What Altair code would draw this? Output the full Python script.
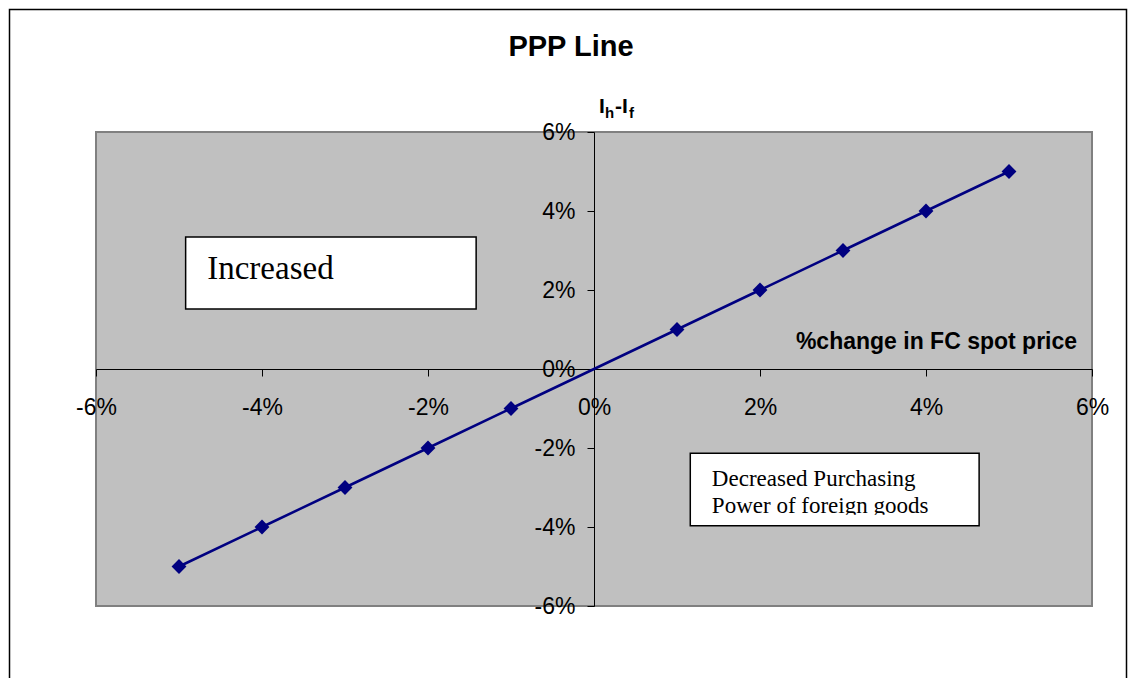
import altair as alt
import pandas as pd

# ---- data ----
x_change = [-0.05, -0.04, -0.03, -0.02, -0.01, 0.01, 0.02, 0.03, 0.04, 0.05]
ih_minus_if = [-0.05, -0.04, -0.03, -0.02, -0.01, 0.01, 0.02, 0.03, 0.04, 0.05]
tick_values = [-0.06, -0.04, -0.02, 0.0, 0.02, 0.04, 0.06]

title_text = "PPP Line"
x_title_text = "%change in FC spot price"
box1_text = ["Increased"]
box2_lines = ["Decreased Purchasing", "Power of foreign goods"]

# annotation boxes in data units (x0, x1, y0, y1)
box1 = [-0.0492, -0.0142, 0.0334, 0.0152]
box2 = [0.0116, 0.0464, -0.0213, -0.0397]

NAVY = "#000080"
SANS = "Liberation Sans"
SERIF = "Liberation Serif"

xs = alt.Scale(domain=[-0.06, 0.06], nice=False, zero=False)
ys = alt.Scale(domain=[-0.06, 0.06], nice=False, zero=False)

label_expr = "(datum.value < 0 ? '-' : '') + format(abs(datum.value), '.0%')"

xaxis = alt.Axis(values=tick_values, offset=-237, tickSize=7, labelPadding=31,
                 labelBaseline="middle", labelExpr=label_expr, title=None,
                 grid=False, domainColor="black", tickColor="black",
                 labelFont=SANS, labelFontSize=23, labelColor="black",
                 labelFlush=False, labelOverlap=False)
yaxis = alt.Axis(values=tick_values, offset=-498, tickSize=7, labelPadding=12,
                 labelExpr=label_expr, title=None, grid=False,
                 domainColor="black", tickColor="black",
                 labelFont=SANS, labelFontSize=23, labelColor="black",
                 labelFlush=False, labelOverlap=False)

X = lambda f: alt.X(f, type="quantitative", scale=xs, axis=xaxis)
Y = lambda f: alt.Y(f, type="quantitative", scale=ys, axis=yaxis)

df = pd.DataFrame({"x": x_change, "y": ih_minus_if})

line = alt.Chart(df).mark_line(color=NAVY, strokeWidth=2.5).encode(x=X("x"), y=Y("y"))
points = alt.Chart(df).mark_point(shape="diamond", filled=True, size=220,
                                  color=NAVY, opacity=1).encode(x=X("x"), y=Y("y"))

boxes_df = pd.DataFrame({"x": [box1[0], box2[0]], "x2": [box1[1], box2[1]],
                         "y": [box1[2], box2[2]], "y2": [box1[3], box2[3]]})
boxes = alt.Chart(boxes_df).mark_rect(fill="white", stroke="black", strokeWidth=1.5).encode(
    x=X("x"), x2="x2", y=Y("y"), y2="y2")

t1 = alt.Chart(pd.DataFrame({"t": box1_text, "x": [-0.0466], "y": [0.0228]})).mark_text(
    align="left", baseline="alphabetic", font=SERIF, fontSize=33, color="black").encode(
    x=X("x"), y=Y("y"), text="t:N")

t2 = alt.Chart(pd.DataFrame({"t": box2_lines, "x": [0.0142, 0.0142],
                             "y": [-0.0296, -0.0365]})).mark_text(
    align="left", baseline="alphabetic", font=SERIF, fontSize=23, color="black").encode(
    x=X("x"), y=Y("y"), text="t:N")

# box clips the descenders of its second line
cover = alt.Chart(pd.DataFrame({"x": [0.0119], "x2": [0.0461], "y": [-0.0369], "y2": [-0.0392]})).mark_rect(
    fill="white", strokeWidth=0).encode(x=X("x"), x2="x2", y=Y("y"), y2="y2")

xlab = alt.Chart(pd.DataFrame({"t": [x_title_text], "x": [0.0582], "y": [0.0051]})).mark_text(
    align="right", baseline="alphabetic", font=SANS, fontSize=23, fontWeight="bold",
    color="black").encode(x=X("x"), y=Y("y"), text="t:N")

title = alt.Chart(pd.DataFrame({"t": [title_text]})).mark_text(
    align="center", baseline="alphabetic", font=SANS, fontSize=29, fontWeight="bold",
    color="black").encode(x=alt.value(475), y=alt.value(-76), text="t:N")

ylab_parts = pd.DataFrame({
    "t": ["I", "h", "-I", "f"],
    "px": [503, 509, 519, 533],
    "py": [-19, -14, -19, -14],
    "fs": [21, 15, 21, 15],
})
ylab = alt.Chart(ylab_parts).mark_text(
    align="left", baseline="alphabetic", font=SANS, fontWeight="bold", color="black").encode(
    x=alt.X("px:Q", scale=None), y=alt.Y("py:Q", scale=None), text="t:N",
    size=alt.Size("fs:Q", scale=None, legend=None))

frame = alt.Chart(pd.DataFrame({"a": [0]})).mark_rect(
    fillOpacity=0, stroke="black", strokeWidth=1.5).encode(
    x=alt.value(-86.5), x2=alt.value(1030.5), y=alt.value(-122.5), y2=alt.value(700))

chart = alt.layer(frame, boxes, t1, t2, cover, xlab, line, points, title, ylab).properties(
    width=996, height=474,
    autosize=alt.AutoSizeParams(type="none"),
    padding={"left": 88, "top": 124, "right": 36, "bottom": 72},
    background="white",
).configure_view(fill="#C0C0C0", stroke="#808080", strokeWidth=2)

chart.save("out.html", embed_options={"renderer": "svg", "actions": False})
